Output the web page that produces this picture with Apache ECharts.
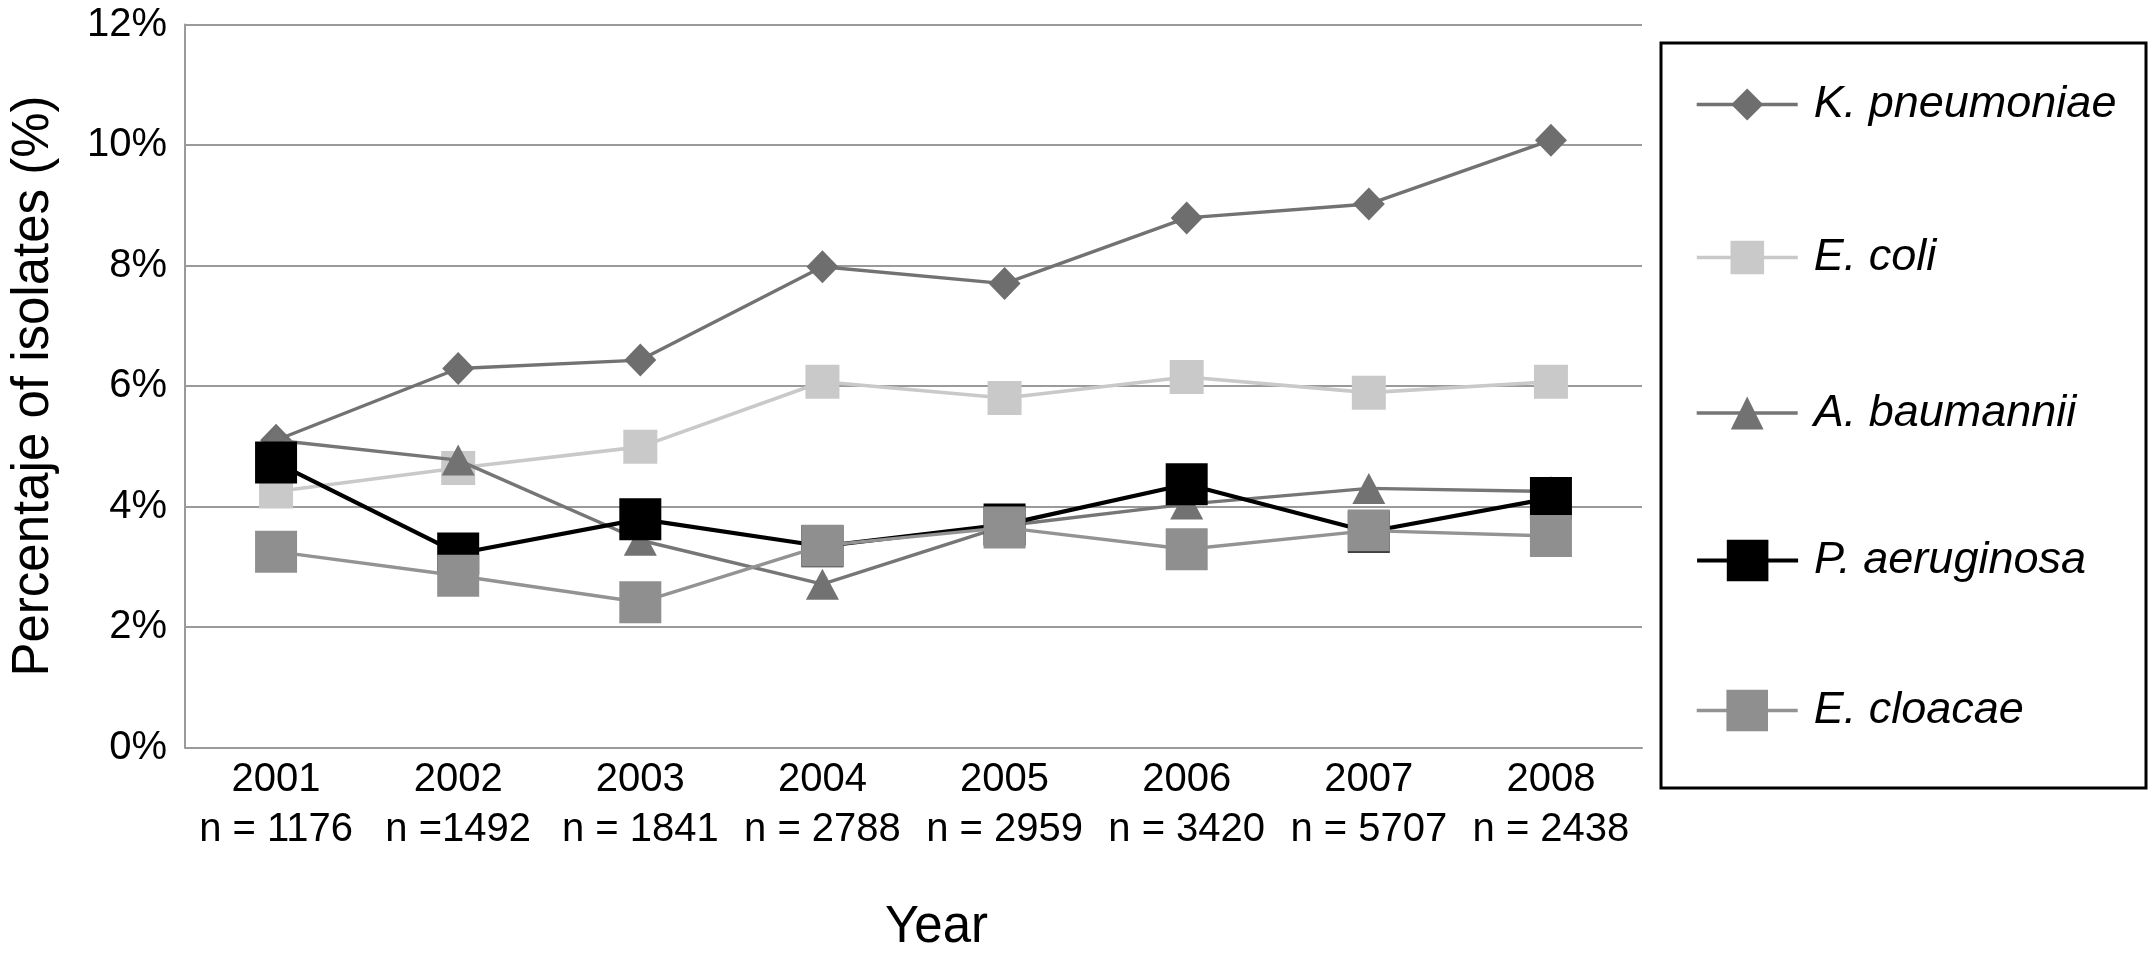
<!DOCTYPE html>
<html>
<head>
<meta charset="utf-8">
<script src="https://cdn.jsdelivr.net/npm/echarts@6/dist/echarts.min.js"></script>
<style>
html,body{margin:0;padding:0;background:#fff;}
#chart{width:2153px;height:972px;}
</style>
</head>
<body>
<div id="chart"></div>
<script>
// ---- data ----
const years = ['2001', '2002', '2003', '2004', '2005', '2006', '2007', '2008'];
const nLabels = ['n = 1176', 'n =1492', 'n = 1841', 'n = 2788', 'n = 2959', 'n = 3420', 'n = 5707', 'n = 2438'];
const seriesNames = ['K. pneumoniae', 'E. coli', 'A. baumannii', 'P. aeruginosa', 'E. cloacae'];
const kPneumoniae = [5.10, 6.29, 6.43, 7.98, 7.70, 8.79, 9.02, 10.08];
const eColi       = [4.25, 4.64, 4.99, 6.07, 5.80, 6.15, 5.89, 6.07];
const aBaumannii  = [5.10, 4.77, 3.44, 2.71, 3.68, 4.04, 4.30, 4.25];
const pAeruginosa = [4.73, 3.22, 3.79, 3.34, 3.70, 4.37, 3.58, 4.14];
const eCloacae    = [3.25, 2.85, 2.41, 3.35, 3.65, 3.29, 3.60, 3.51];
const yTicks = { min: 0, max: 12, interval: 2 };

// ---- styling ----
const FONT = "'Liberation Sans', Arial, Helvetica, sans-serif";
const GRID_COLOR = '#9a9a9a';
const styles = [
  { color: '#6e6e6e', lineColor: '#727272', width: 3.4, symbol: 'diamond',  size: [32, 33], legendH: 40 },
  { color: '#c9c9c9', lineColor: '#c9c9c9', width: 3.6, symbol: 'rect',     size: 34,       legendH: 42 },
  { color: '#727272', lineColor: '#767676', width: 3.4, symbol: 'triangle', size: [33, 31], legendH: 41 },
  { color: '#000000', lineColor: '#000000', width: 4.2, symbol: 'rect',     size: 42,       legendH: 52 },
  { color: '#8f8f8f', lineColor: '#939393', width: 3.4, symbol: 'rect',     size: 42,       legendH: 52 }
];
const values = [kPneumoniae, eColi, aBaumannii, pAeruginosa, eCloacae];
const legendCenters = [102, 256, 411, 564, 714];

const chart = echarts.init(document.getElementById('chart'), null, { renderer: 'canvas' });

const series = seriesNames.map((name, i) => ({
  name: name,
  type: 'line',
  data: values[i],
  symbol: styles[i].symbol,
  symbolSize: styles[i].size,
  showAllSymbol: true,
  lineStyle: { color: styles[i].lineColor, width: styles[i].width },
  itemStyle: { color: styles[i].color },
  emphasis: { disabled: true },
  animation: false,
  z: 2 + i
}));

const legends = seriesNames.map((name, i) => ({
  data: [name],
  orient: 'vertical',
  left: 1695,
  top: legendCenters[i] - styles[i].legendH / 2,
  padding: 0,
  itemWidth: 101,
  itemHeight: styles[i].legendH,
  selectedMode: false,
  lineStyle: { width: styles[i].width, color: styles[i].lineColor },
  textStyle: {
    fontFamily: FONT, fontSize: 45, fontStyle: 'italic', color: '#000',
    padding: [0, 0, 0, 11]
  }
}));

chart.setOption({
  backgroundColor: '#ffffff',
  animation: false,
  grid: { left: 177, right: 511, top: 24.5, bottom: 224.5, containLabel: false },
  legend: legends,
  xAxis: {
    type: 'category',
    data: years.map((y, i) => y + '\n' + nLabels[i]),
    boundaryGap: true,
    axisLine: { show: true, lineStyle: { color: GRID_COLOR, width: 2 } },
    axisTick: { show: false },
    splitLine: { show: false },
    axisLabel: {
      interval: 0, margin: 7, color: '#000',
      fontFamily: FONT, fontSize: 40, lineHeight: 50
    },
    name: 'Year',
    nameLocation: 'middle',
    nameGap: 155,
    nameTextStyle: { fontFamily: FONT, fontSize: 51, color: '#000', padding: [0, 0, 0, 46] }
  },
  yAxis: {
    type: 'value',
    min: yTicks.min, max: yTicks.max, interval: yTicks.interval,
    axisLine: { show: true, lineStyle: { color: GRID_COLOR, width: 2 } },
    axisTick: { show: false },
    splitLine: { show: true, lineStyle: { color: GRID_COLOR, width: 2 } },
    axisLabel: {
      formatter: '{value}%', margin: 18, color: '#000',
      fontFamily: FONT, fontSize: 40
    },
    name: 'Percentaje of isolates (%)',
    nameLocation: 'middle',
    nameRotate: 90,
    nameGap: 126,
    nameTextStyle: { fontFamily: FONT, fontSize: 51, color: '#000' }
  },
  graphic: [{
    type: 'rect',
    shape: { x: 1661, y: 43, width: 485, height: 745 },
    style: { fill: 'none', stroke: '#000', lineWidth: 3 },
    silent: true,
    z: 0
  }],
  series: series
});
</script>
</body>
</html>
